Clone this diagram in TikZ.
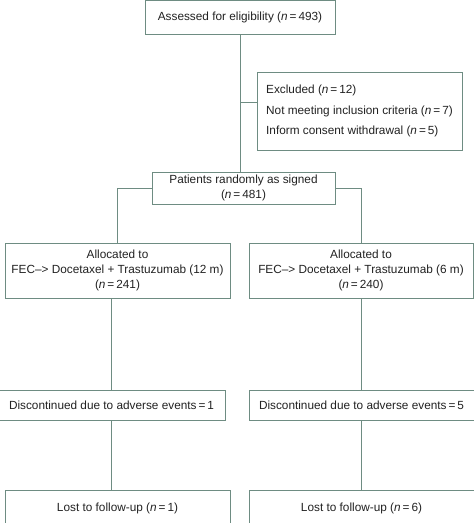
\documentclass[tikz,border=0pt]{standalone}
\usepackage{fontspec}
\setmainfont{Liberation Sans}
\begin{document}
\begin{tikzpicture}[x=1pt,y=-1pt,
  box/.style={draw=linec, line width=0.9pt, fill=white, inner sep=0pt, align=center, text=textc, font=\fontsize{11.8}{15}\selectfont},
  conn/.style={draw=linec, line width=0.9pt}]
\definecolor{linec}{HTML}{6E8C82}
\definecolor{textc}{HTML}{222222}
\useasboundingbox (0,0) rectangle (474,523);
\node[box, minimum width=190pt, minimum height=34pt] (top) at (240,17) {Assessed for eligibility (\textit{n}\,=\,493)};
\node[box, minimum width=205pt, minimum height=78pt, align=left, font=\fontsize{11.8}{20.5}\selectfont] (excl) at (359.5,111)
  {Excluded (\textit{n}\,=\,12)\\Not meeting inclusion criteria (\textit{n}\,=\,7)\\Inform consent withdrawal (\textit{n}\,=\,5)};
\node[box, minimum width=183pt, minimum height=32pt] (rand) at (243.5,188) {Patients randomly as signed\\(\textit{n}\,=\,481)};
\node[box, minimum width=225pt, minimum height=55pt] (allocL) at (117.5,270.5) {Allocated to\\FEC–{}> Docetaxel + Trastuzumab (12 m)\\(\textit{n}\,=\,241)};
\node[box, minimum width=224pt, minimum height=55pt] (allocR) at (361,270.5) {Allocated to\\FEC–{}> Docetaxel + Trastuzumab (6 m)\\(\textit{n}\,=\,240)};
\node[box, minimum width=227pt, minimum height=30pt] (discL) at (111.5,405) {Discontinued due to adverse events\,=\,1};
\node[box, minimum width=225pt, minimum height=30pt] (discR) at (361.5,405) {Discontinued due to adverse events\,=\,5};
\node[box, minimum width=225pt, minimum height=36pt] (lostL) at (117.5,508) {Lost to follow-up (\textit{n}\,=\,1)};
\node[box, minimum width=225pt, minimum height=36pt] (lostR) at (361.5,508) {Lost to follow-up (\textit{n}\,=\,6)};
\coordinate (br) at (240,102);
\draw[conn] (top.south) -- (top.south |- rand.north);
\draw[conn] (br) -- (br -| excl.west);
\draw[conn] (rand.west) -| (allocL.north);
\draw[conn] (rand.east) -| (allocR.north);
\draw[conn] (discL.north |- allocL.south) -- (discL.north);
\draw[conn] (discL.south) -- (discL.south |- lostL.north);
\draw[conn] (allocR.south) -- (allocR.south |- discR.north);
\draw[conn] (discR.south) -- (discR.south |- lostR.north);
\end{tikzpicture}
\end{document}
